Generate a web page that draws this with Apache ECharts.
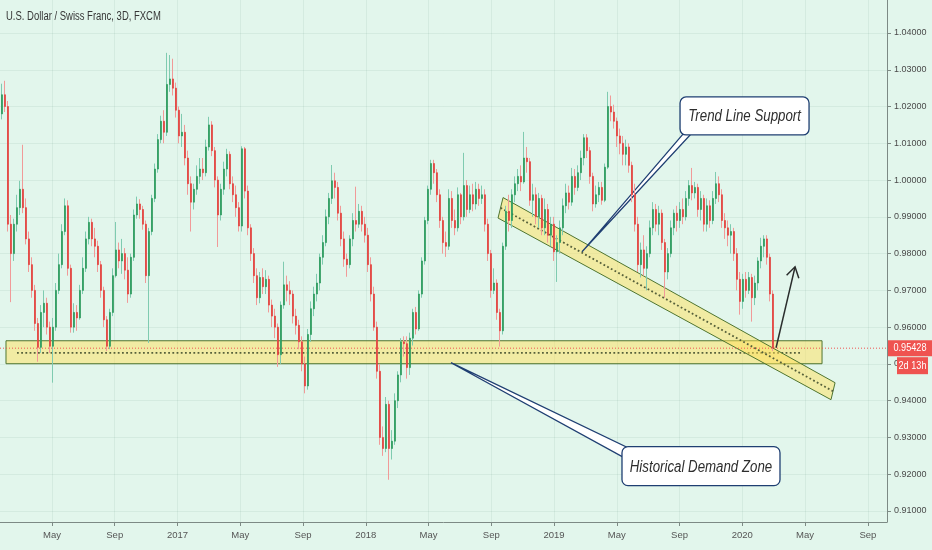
<!DOCTYPE html>
<html>
<head>
<meta charset="utf-8">
<title>USD/CHF 3D</title>
<script src="https://cdn.jsdelivr.net/npm/echarts@6/dist/echarts.min.js"></script>
<style>
    html, body { margin: 0; padding: 0; background: #e2f6ec; }
    #chart { width: 932px; height: 550px; }
</style>
</head>
<body>
<div id="chart"></div>
<script>
// ---- data (x is counted in months from Jan 2016) ----
var chartTitle = 'U.S. Dollar / Swiss Franc, 3D, FXCM';

var tickMonths = [4, 8, 12, 16, 20, 24, 28, 32, 36, 40, 44, 48, 52, 56];
var tickLabels = ['May', 'Sep', '2017', 'May', 'Sep', '2018', 'May', 'Sep', '2019', 'May', 'Sep', '2020', 'May', 'Sep'];
var priceTicks = [0.91, 0.92, 0.93, 0.94, 0.95, 0.96, 0.97, 0.98, 0.99, 1.00, 1.01, 1.02, 1.03, 1.04];

var firstBarMonth = 0.816;   // month of the first candle
var barMonths = 0.1912;      // spacing between candles
var firstOpen = 1.0180;      // every later candle opens at the previous close

var closes = [
    1.0232, 1.0200, 0.9880, 0.9800, 0.9880, 0.9925, 0.9975, 0.9925, 0.9840, 0.9770,
    0.9700, 0.9610, 0.9545, 0.9640, 0.9665, 0.9600, 0.9548, 0.9600, 0.9700, 0.9770,
    0.9860, 0.9930, 0.9760, 0.9600, 0.9640, 0.9625, 0.9700, 0.9760, 0.9840, 0.9885,
    0.9840, 0.9820, 0.9770, 0.9700, 0.9620, 0.9548, 0.9640, 0.9740, 0.9810, 0.9780,
    0.9800, 0.9755, 0.9690, 0.9790, 0.9905, 0.9935, 0.9920, 0.9880, 0.9740, 0.9860,
    0.9950, 1.0030, 1.0110, 1.0160, 1.0130, 1.0260, 1.0275, 1.0250, 1.0190, 1.0120,
    1.0130, 1.0060, 0.9990, 0.9940, 0.9975, 1.0010, 1.0030, 1.0020, 1.0090, 1.0150,
    1.0080, 1.0000, 0.9905, 0.9975, 1.0030, 1.0070, 0.9990, 0.9960, 0.9925, 0.9875,
    1.0085, 0.9970, 0.9870, 0.9800, 0.9740, 0.9680, 0.9735, 0.9710, 0.9730, 0.9660,
    0.9630, 0.9600, 0.9525, 0.9660, 0.9715, 0.9700, 0.9690, 0.9630, 0.9605, 0.9560,
    0.9500, 0.9440, 0.9580, 0.9650, 0.9690, 0.9720, 0.9790, 0.9830, 0.9900, 0.9950,
    0.9998, 0.9980, 0.9910, 0.9840, 0.9785, 0.9770, 0.9840, 0.9890, 0.9880, 0.9915,
    0.9880, 0.9850, 0.9770, 0.9690, 0.9600, 0.9480, 0.9300, 0.9270, 0.9390, 0.9270,
    0.9290, 0.9400, 0.9470, 0.9560, 0.9555, 0.9490, 0.9570, 0.9640, 0.9595, 0.9690,
    0.9780, 0.9890, 0.9975, 1.0045, 1.0020, 0.9960, 0.9890, 0.9830, 0.9820, 0.9950,
    0.9890, 0.9870, 0.9960, 0.9900, 0.9985, 0.9920, 0.9960, 0.9935, 0.9975, 0.9950,
    0.9960, 0.9880, 0.9800, 0.9700, 0.9720, 0.9640, 0.9590, 0.9820, 0.9915, 0.9890,
    0.9960, 0.9990, 1.0010, 0.9995, 1.0060, 1.0050, 0.9945, 0.9960, 0.9900, 0.9950,
    0.9870, 0.9920, 0.9850, 0.9880, 0.9805, 0.9830, 0.9870, 0.9930, 0.9965, 0.9940,
    1.0010, 0.9980, 1.0020, 1.0060, 1.0115, 1.0080, 1.0010, 0.9935, 0.9960, 0.9980,
    0.9945, 1.0035, 1.0200, 1.0185, 1.0160, 1.0120, 1.0100, 1.0070, 1.0090, 1.0040,
    0.9960, 0.9880, 0.9770, 0.9810, 0.9760, 0.9800, 0.9870, 0.9920, 0.9880, 0.9910,
    0.9830, 0.9750, 0.9800, 0.9870, 0.9910, 0.9890, 0.9920, 0.9900, 0.9950, 0.9985,
    0.9965, 0.9980, 0.9920, 0.9950, 0.9880, 0.9930, 0.9890, 0.9950, 0.9990, 0.9960,
    0.9890, 0.9870, 0.9850, 0.9860, 0.9800, 0.9730, 0.9670, 0.9730, 0.9700, 0.9735,
    0.9680, 0.9720, 0.9780, 0.9820, 0.9840, 0.9790, 0.9690, 0.9543
];
var highs = [
    1.0262, 1.0270, 1.0215, 0.9905, 0.9895, 0.9960, 0.9998, 1.0096, 0.9950, 0.9860,
    0.9790, 0.9715, 0.9625, 0.9660, 0.9700, 0.9680, 0.9615, 0.9625, 0.9720, 0.9800,
    0.9880, 0.9950, 0.9945, 0.9770, 0.9665, 0.9660, 0.9715, 0.9790, 0.9860, 0.9900,
    0.9895, 0.9870, 0.9835, 0.9780, 0.9710, 0.9630, 0.9650, 0.9760, 0.9886, 0.9830,
    0.9840, 0.9815, 0.9790, 0.9800, 0.9920, 0.9955, 0.9948, 0.9930, 0.9890, 0.9870,
    0.9960, 1.0045, 1.0125, 1.0175, 1.0190, 1.0346, 1.0340, 1.0330, 1.0265, 1.0200,
    1.0180, 1.0150, 1.0080, 1.0010, 0.9990, 1.0040, 1.0060, 1.0060, 1.0110, 1.0172,
    1.0160, 1.0090, 1.0010, 0.9990, 1.0050, 1.0085, 1.0078, 1.0010, 0.9985, 0.9940,
    1.0092, 1.0090, 0.9985, 0.9880, 0.9815, 0.9760, 0.9750, 0.9760, 0.9755, 0.9740,
    0.9675, 0.9650, 0.9610, 0.9670, 0.9778, 0.9740, 0.9725, 0.9700, 0.9650, 0.9620,
    0.9575, 0.9520, 0.9595, 0.9670, 0.9710, 0.9745, 0.9800, 0.9850, 0.9920, 0.9965,
    1.0041, 1.0020, 0.9995, 0.9930, 0.9860, 0.9800, 0.9850, 0.9910, 0.9982, 0.9935,
    0.9930, 0.9900, 0.9870, 0.9790, 0.9710, 0.9615, 0.9500, 0.9330, 0.9410, 0.9400,
    0.9320, 0.9420, 0.9480, 0.9570, 0.9575, 0.9575, 0.9585, 0.9650, 0.9655, 0.9700,
    0.9790, 0.9900, 0.9985, 1.0055, 1.0055, 1.0030, 0.9975, 0.9900, 0.9860, 0.9975,
    0.9970, 0.9920, 0.9980, 0.9965, 1.0074, 1.0000, 0.9985, 0.9990, 0.9995, 0.9990,
    0.9985, 0.9975, 0.9895, 0.9810, 0.9760, 0.9730, 0.9650, 0.9830, 0.9930, 0.9960,
    0.9975, 1.0010, 1.0030, 1.0040, 1.0131, 1.0090, 1.0060, 0.9990, 0.9980, 0.9965,
    0.9960, 0.9950, 0.9935, 0.9900, 0.9900, 0.9850, 0.9890, 0.9950, 0.9990, 0.9985,
    1.0033, 1.0030, 1.0040, 1.0080, 1.0125, 1.0125, 1.0090, 1.0020, 0.9985, 0.9995,
    0.9995, 1.0045, 1.0240, 1.0230, 1.0205, 1.0170, 1.0140, 1.0120, 1.0110, 1.0100,
    1.0050, 0.9990, 0.9900, 0.9830, 0.9850, 0.9820, 0.9890, 0.9940, 0.9935, 0.9930,
    0.9920, 0.9840, 0.9815, 0.9890, 0.9920, 0.9930, 0.9940, 0.9950, 0.9970, 1.0000,
    1.0033, 0.9995, 0.9990, 0.9970, 0.9960, 0.9950, 0.9945, 0.9970, 1.0022, 1.0010,
    0.9975, 0.9910, 0.9890, 0.9880, 0.9870, 0.9815, 0.9750, 0.9745, 0.9750, 0.9750,
    0.9745, 0.9740, 0.9790, 0.9843, 0.9850, 0.9850, 0.9800, 0.9700
];
var lows = [
    1.0165, 1.0185, 0.9860, 0.9668, 0.9780, 0.9860, 0.9905, 0.9910, 0.9825, 0.9750,
    0.9680, 0.9590, 0.9506, 0.9530, 0.9600, 0.9580, 0.9530, 0.9449, 0.9590, 0.9690,
    0.9760, 0.9850, 0.9740, 0.9585, 0.9585, 0.9590, 0.9620, 0.9690, 0.9750, 0.9825,
    0.9820, 0.9790, 0.9750, 0.9680, 0.9600, 0.9535, 0.9540, 0.9630, 0.9735, 0.9760,
    0.9745, 0.9730, 0.9666, 0.9680, 0.9780, 0.9895, 0.9895, 0.9865, 0.9720, 0.9557,
    0.9850, 0.9940, 1.0020, 1.0100, 1.0100, 1.0120, 1.0240, 1.0230, 1.0170, 1.0100,
    1.0090, 1.0040, 0.9960, 0.9860, 0.9920, 0.9960, 0.9990, 1.0000, 1.0010, 1.0080,
    1.0065, 0.9980, 0.9818, 0.9890, 0.9960, 1.0010, 0.9975, 0.9940, 0.9900, 0.9860,
    0.9860, 0.9950, 0.9850, 0.9780, 0.9720, 0.9660, 0.9665, 0.9690, 0.9690, 0.9640,
    0.9600, 0.9570, 0.9492, 0.9500, 0.9650, 0.9670, 0.9660, 0.9610, 0.9580, 0.9540,
    0.9480, 0.9420, 0.9430, 0.9560, 0.9630, 0.9670, 0.9700, 0.9770, 0.9820, 0.9880,
    0.9935, 0.9950, 0.9890, 0.9820, 0.9764, 0.9737, 0.9760, 0.9820, 0.9860, 0.9870,
    0.9860, 0.9830, 0.9750, 0.9670, 0.9590, 0.9460, 0.9280, 0.9250, 0.9260, 0.9185,
    0.9240, 0.9280, 0.9380, 0.9450, 0.9520, 0.9460, 0.9470, 0.9550, 0.9580, 0.9590,
    0.9680, 0.9770, 0.9880, 0.9960, 0.9990, 0.9940, 0.9870, 0.9800, 0.9791, 0.9810,
    0.9870, 0.9850, 0.9860, 0.9880, 0.9890, 0.9900, 0.9910, 0.9915, 0.9920, 0.9930,
    0.9935, 0.9860, 0.9780, 0.9680, 0.9690, 0.9620, 0.9547, 0.9580, 0.9810, 0.9860,
    0.9870, 0.9940, 0.9970, 0.9970, 0.9990, 1.0020, 0.9930, 0.9900, 0.9880, 0.9870,
    0.9850, 0.9850, 0.9830, 0.9820, 0.9780, 0.9723, 0.9800, 0.9850, 0.9910, 0.9920,
    0.9930, 0.9960, 0.9970, 1.0000, 1.0040, 1.0060, 0.9990, 0.9915, 0.9925, 0.9940,
    0.9933, 0.9940, 1.0030, 1.0160, 1.0140, 1.0090, 1.0070, 1.0040, 1.0040, 1.0020,
    0.9940, 0.9860, 0.9750, 0.9735, 0.9740, 0.9700, 0.9790, 0.9850, 0.9860, 0.9850,
    0.9810, 0.9680, 0.9730, 0.9790, 0.9850, 0.9860, 0.9870, 0.9880, 0.9890, 0.9930,
    0.9945, 0.9950, 0.9900, 0.9890, 0.9860, 0.9860, 0.9870, 0.9880, 0.9935, 0.9940,
    0.9870, 0.9840, 0.9820, 0.9800, 0.9780, 0.9700, 0.9634, 0.9650, 0.9680, 0.9690,
    0.9615, 0.9660, 0.9700, 0.9760, 0.9790, 0.9770, 0.9670, 0.9535
];

var lastPrice = 0.95428;
var countdownText = '2d 13h';

// drawings, anchored in [month, price]
var zoneStart = 1.07, zoneEnd = 53.08, zoneTop = 0.9563, zoneBottom = 0.95005, zoneMid = 0.9530;
var zoneDotsStart = 1.77, zoneDotsEnd = 51.68;
var channelCorners = [[32.75, 0.99524], [53.91, 0.94489], [53.65, 0.94027], [32.43, 0.98967]];
var arrowFrom = [50.15, 0.9544], arrowTo = [51.36, 0.97641];
var callouts = [
    {text: 'Trend Line Support', at: [44.03, 1.02261], w: 129, h: 38, tip: [37.78, 0.98049], tail: [[4, 36], [11, 37]]},
    {text: 'Historical Demand Zone', at: [40.33, 0.9275], w: 158, h: 39, tip: [29.43, 0.95033], tail: [[8, 2], [2, 11]]}
];

// ---- styles ----
var SANS = "'Liberation Sans', Arial, sans-serif";
var UP = '#2a9a5a', DOWN = '#e23f3b';
var UP_WICK = '#7fcbb0', DOWN_WICK = '#f19a98';
var ZONE_FILL = 'rgba(255,224,90,0.5)', ZONE_EDGE = '#4f7530', DOTS = '#56603a';
var CALLOUT_EDGE = '#1f3f72';
var AXIS_COLOR = '#7d8a85', GRID_COLOR = 'rgba(30,100,70,0.07)';
var SQUEEZE = 0.83;   // the original uses a narrow face; squeeze the installed one

// full candles: [month, open, close, low, high]
function buildCandles() {
    var rows = [];
    var open = firstOpen;
    for (var i = 0; i < closes.length; i++) {
        rows.push([firstBarMonth + i * barMonths, open, closes[i], lows[i], highs[i]]);
        open = closes[i];
    }
    return rows;
}

// same candles cut down to the body, drawn darker over the pale wicks
function bodiesOnly(rows) {
    return rows.map(function (r) {
        return [r[0], r[1], r[2], Math.min(r[1], r[2]), Math.max(r[1], r[2])];
    });
}

function mid(a, b) { return [(a[0] + b[0]) / 2, (a[1] + b[1]) / 2]; }

function arrowHead(p0, p1, len, ang) {
    var dx = p1[0] - p0[0], dy = p1[1] - p0[1];
    var d = Math.sqrt(dx * dx + dy * dy);
    var ux = dx / d, uy = dy / d;
    function side(a) {
        var c = Math.cos(a), s = Math.sin(a);
        return [p1[0] - len * (ux * c - uy * s), p1[1] - len * (ux * s + uy * c)];
    }
    return [side(ang), p1, side(-ang)];
}

function squeezedText(str, x, y, font, fill, align) {
    return {type: 'text', x: x, y: y, scaleX: SQUEEZE,
        style: {text: str, x: 0, y: 0, align: align || 'center', verticalAlign: 'middle', fill: fill, font: font}};
}

// zone, channel, arrow, callouts
function renderDrawings(params, api) {
    var kids = [];
    var toPx = function (p) { return api.coord(p); };

    var zA = toPx([zoneStart, zoneTop]), zB = toPx([zoneEnd, zoneBottom]);
    kids.push({type: 'rect', shape: {x: zA[0], y: zA[1], width: zB[0] - zA[0], height: zB[1] - zA[1]},
        style: {fill: ZONE_FILL, stroke: ZONE_EDGE, lineWidth: 1}});
    var d1 = toPx([zoneDotsStart, zoneMid]), d2 = toPx([zoneDotsEnd, zoneMid]);
    kids.push({type: 'line', shape: {x1: d1[0], y1: d1[1], x2: d2[0], y2: d2[1]},
        style: {stroke: DOTS, lineWidth: 1.8, lineDash: [1.8, 2.4]}});

    var cp = channelCorners.map(toPx);
    kids.push({type: 'polygon', shape: {points: cp}, style: {fill: ZONE_FILL, stroke: ZONE_EDGE, lineWidth: 1}});
    var c1 = mid(cp[0], cp[3]), c2 = mid(cp[1], cp[2]);
    kids.push({type: 'line', shape: {x1: c1[0], y1: c1[1], x2: c2[0], y2: c2[1]},
        style: {stroke: DOTS, lineWidth: 1.8, lineDash: [1.8, 2.4]}});

    // last price line
    var pl = toPx([0.688, lastPrice]), pr = toPx([57.22, lastPrice]);
    kids.push({type: 'line', shape: {x1: pl[0], y1: pl[1], x2: pr[0], y2: pr[1]},
        style: {stroke: '#ef5350', lineWidth: 1, lineDash: [1, 2]}});

    var a0 = toPx(arrowFrom), a1 = toPx(arrowTo);
    kids.push({type: 'line', shape: {x1: a0[0], y1: a0[1], x2: a1[0], y2: a1[1]},
        style: {stroke: '#2a2d2c', lineWidth: 1.5}});
    kids.push({type: 'polyline', shape: {points: arrowHead(a0, a1, 12, 0.55)},
        style: {stroke: '#2a2d2c', lineWidth: 1.5, fill: null}});

    callouts.forEach(function (c) {
        var b = toPx(c.at), t = toPx(c.tip);
        kids.push({type: 'polygon', shape: {points: [t, [b[0] + c.tail[0][0], b[1] + c.tail[0][1]], [b[0] + c.tail[1][0], b[1] + c.tail[1][1]]]},
            style: {fill: '#ffffff', stroke: CALLOUT_EDGE, lineWidth: 1.3}});
        kids.push({type: 'rect', shape: {x: b[0], y: b[1], width: c.w, height: c.h, r: 6},
            style: {fill: '#ffffff', stroke: CALLOUT_EDGE, lineWidth: 1.3}});
        kids.push(squeezedText(c.text, b[0] + c.w / 2, b[1] + c.h / 2 + 1, 'italic 16px ' + SANS, '#2e2e2e'));
    });

    // price and countdown tags on the scale
    var py = pr[1], px0 = pr[0] + 1;
    kids.push({type: 'rect', shape: {x: px0, y: py - 8, width: 932 - px0, height: 16},
        style: {fill: '#ef5350'}});
    kids.push(squeezedText(lastPrice.toFixed(5), px0 + 22, py, '11px ' + SANS, '#ffffff'));
    kids.push({type: 'rect', shape: {x: px0 + 9, y: py + 9, width: 31, height: 17},
        style: {fill: '#ef5350'}});
    kids.push(squeezedText(countdownText, px0 + 24.5, py + 17.5, '11px ' + SANS, '#ffffff'));

    return {type: 'group', children: kids};
}

var myChart = echarts.init(document.getElementById('chart'));
var candleRows = buildCandles();

var option = {
    animation: false,
    backgroundColor: '#e2f6ec',
    graphic: [
        {type: 'text', x: 6, y: 17, scaleX: 0.79,
            style: {text: chartTitle, x: 0, y: 0, verticalAlign: 'middle', fill: '#363636', font: '12px ' + SANS}}
    ],
    grid: {left: 0, right: 45, top: 0, bottom: 28},
    xAxis: {
        type: 'value',
        min: 0.688,
        max: 57.22,
        axisLine: {show: true, onZero: false, lineStyle: {color: AXIS_COLOR}},
        axisTick: {show: true, customValues: tickMonths, length: 4, lineStyle: {color: AXIS_COLOR}},
        axisLabel: {
            customValues: tickMonths,
            margin: 8,
            color: '#555',
            fontSize: 9.5,
            fontFamily: SANS,
            formatter: function (v) { return tickLabels[tickMonths.indexOf(Math.round(v))] || ''; }
        },
        splitLine: {show: true, lineStyle: {color: GRID_COLOR}}
    },
    yAxis: {
        type: 'value',
        position: 'right',
        min: 0.90701,
        max: 1.04897,
        axisLine: {show: true, onZero: false, lineStyle: {color: AXIS_COLOR}},
        axisTick: {show: true, customValues: priceTicks, length: 4, lineStyle: {color: AXIS_COLOR}},
        axisLabel: {
            customValues: priceTicks,
            margin: 7,
            color: '#4a4a4a',
            fontSize: 9,
            fontFamily: SANS,
            formatter: function (v) { return v.toFixed(5); }
        },
        splitLine: {show: true, lineStyle: {color: GRID_COLOR}}
    },
    series: [
        {
            name: 'wicks',
            type: 'candlestick',
            data: candleRows,
            barWidth: 1,
            itemStyle: {color: UP_WICK, color0: DOWN_WICK, borderColor: UP_WICK, borderColor0: DOWN_WICK, borderWidth: 1}
        },
        {
            name: 'USDCHF',
            type: 'candlestick',
            data: bodiesOnly(candleRows),
            barWidth: 2,
            itemStyle: {color: UP, color0: DOWN, borderColor: UP, borderColor0: DOWN, borderWidth: 0.7}
        },
        {
            name: 'drawings',
            type: 'custom',
            silent: true,
            clip: false,
            data: [[firstBarMonth, lastPrice]],
            renderItem: renderDrawings
        }
    ]
};

myChart.setOption(option);
</script>
</body>
</html>
